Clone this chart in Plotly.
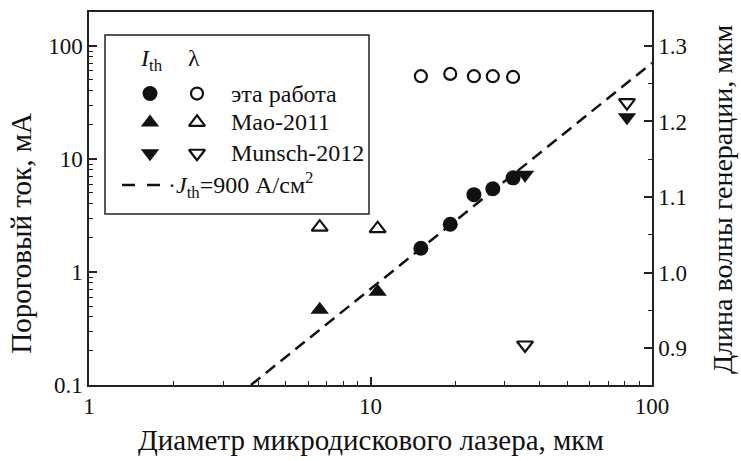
import plotly.graph_objects as go

# ---- data ----
this_d = [15.1, 19.2, 23.3, 27.2, 32.1]
this_I = [1.62, 2.64, 4.83, 5.45, 6.8]
this_lam = [1.260, 1.263, 1.260, 1.260, 1.259]

mao_d = [6.6, 10.6]
mao_I = [0.464, 0.668]
mao_lam = [1.060, 1.058]

munsch_d = [35.4, 81.5]
munsch_I = [7.24, 23.4]
munsch_lam = [0.904, 1.225]

line_d = [3.76, 100.0]
line_I = [0.1, 70.7]

FONT = "'Liberation Serif', 'Times New Roman', Times, serif"
BLACK = "#111111"

# plot area in pixels
L, R, T, B = 89, 652, 10, 385
W, H = 741, 461

fig = go.Figure()

def mk(sym, size, filled):
    if filled:
        return dict(symbol=sym, size=size, color=BLACK, line=dict(width=0))
    return dict(symbol=sym + "-open", size=size, color=BLACK, line=dict(width=2.2, color=BLACK))

# J_th line
fig.add_trace(go.Scatter(x=line_d, y=line_I, mode="lines",
                         line=dict(color=BLACK, width=2.5, dash="12px,7px"),
                         xaxis="x", yaxis="y", showlegend=False))
# threshold currents
fig.add_trace(go.Scatter(x=this_d, y=this_I, mode="markers", marker=mk("circle", 15, True),
                         xaxis="x", yaxis="y", showlegend=False))
fig.add_trace(go.Scatter(x=mao_d, y=mao_I, mode="markers", marker=mk("triangle-up", 16, True),
                         xaxis="x", yaxis="y", showlegend=False))
fig.add_trace(go.Scatter(x=munsch_d, y=munsch_I, mode="markers", marker=mk("triangle-down", 16, True),
                         xaxis="x", yaxis="y", showlegend=False))
# wavelengths
fig.add_trace(go.Scatter(x=this_d, y=this_lam, mode="markers", marker=mk("circle", 12, False),
                         xaxis="x", yaxis="y2", showlegend=False))
fig.add_trace(go.Scatter(x=mao_d, y=mao_lam, mode="markers", marker=mk("triangle-up", 14, False),
                         xaxis="x", yaxis="y2", showlegend=False))
fig.add_trace(go.Scatter(x=munsch_d, y=munsch_lam, mode="markers", marker=mk("triangle-down", 14, False),
                         xaxis="x", yaxis="y2", showlegend=False))

# ---- manual legend (pixel overlay axes) ----
leg_rows_y = [92, 121, 152]
leg_syms = ["circle", "triangle-up", "triangle-down"]
leg_labels = ["эта работа", "Mao-2011", "Munsch-2012"]
for yy, s in zip(leg_rows_y, leg_syms):
    fig.add_trace(go.Scatter(x=[150], y=[yy], mode="markers",
                             marker=mk(s, 15 if s == "circle" else 16, True),
                             xaxis="x3", yaxis="y3", showlegend=False, hoverinfo="skip"))
    fig.add_trace(go.Scatter(x=[197], y=[yy], mode="markers",
                             marker=mk(s, 12 if s == "circle" else 14, False),
                             xaxis="x3", yaxis="y3", showlegend=False, hoverinfo="skip"))
fig.add_trace(go.Scatter(x=[122, 162], y=[184, 184], mode="lines",
                         line=dict(color=BLACK, width=2.5, dash="13px,12px"),
                         xaxis="x3", yaxis="y3", showlegend=False, hoverinfo="skip"))

FLEG = dict(family=FONT, size=24, color=BLACK)
FTIT = dict(family=FONT, size=29, color=BLACK)
FTIT_R = dict(family=FONT, size=28, color=BLACK)
annos = []
for yy, lab in zip(leg_rows_y, leg_labels):
    annos.append(dict(x=229, y=yy, xref="x3", yref="y3", text=lab, showarrow=False,
                      xanchor="left", yanchor="middle", font=FLEG))
annos.append(dict(x=166, y=184, xref="x3", yref="y3",
                  text="·<i>J</i><sub>th</sub>=900 А/см<sup>2</sup>", showarrow=False,
                  xanchor="left", yanchor="middle", font=FLEG))
annos.append(dict(x=151, y=58, xref="x3", yref="y3", text="<i>I</i><sub>th</sub>", showarrow=False,
                  xanchor="center", yanchor="middle", font=FLEG))
annos.append(dict(x=194, y=56, xref="x3", yref="y3", text="λ", showarrow=False,
                  xanchor="center", yanchor="middle", font=FLEG))
# axis titles
annos.append(dict(x=0.5, y=0.0, xref="paper", yref="paper", yshift=-55,
                  text="Диаметр микродискового лазера, мкм",
                  showarrow=False, xanchor="center", yanchor="middle", font=FTIT))
annos.append(dict(x=0.0, y=233, xref="paper", yref="y3", xshift=-68, text="Пороговый ток, мА",
                  showarrow=False, xanchor="center", yanchor="middle", textangle=-90, font=FTIT))
annos.append(dict(x=1.0, y=198, xref="paper", yref="y3", xshift=70, text="Длина волны генерации, мкм",
                  showarrow=False, xanchor="center", yanchor="middle", textangle=-90, font=FTIT_R))

tickfont = dict(family=FONT, size=23, color=BLACK)
axline = dict(showline=True, linecolor="#222222", linewidth=1.5)

fig.update_layout(
    width=W, height=H,
    font=dict(family=FONT),
    margin=dict(l=L, r=W - R, t=T, b=H - B, pad=0),
    paper_bgcolor="white", plot_bgcolor="white",
    xaxis=dict(type="log", range=[0, 2], ticks="inside", ticklen=8, tickwidth=1.5,
               tickcolor="#222222", mirror=True, showgrid=False, zeroline=False,
               tickfont=tickfont, tickvals=[1, 10, 100], ticktext=["1", "10", "100"],
               minor=dict(ticks="inside", ticklen=4, tickwidth=1.2, tickcolor="#222222",
                          tickvals=[2, 3, 4, 5, 6, 7, 8, 9, 20, 30, 40, 50, 60, 70, 80, 90]),
               **axline),
    yaxis=dict(type="log", range=[-1, 2.3], ticks="inside", ticklen=8, tickwidth=1.5,
               tickcolor="#222222", showgrid=False, zeroline=False, tickfont=tickfont,
               tickvals=[0.1, 1, 10, 100], ticktext=["0.1", "1", "10", "100"],
               minor=dict(ticks="inside", ticklen=4, tickwidth=1.2, tickcolor="#222222",
                          tickvals=[k * m for m in (0.1, 1, 10, 100) for k in range(2, 10)]),
               **axline),
    yaxis2=dict(overlaying="y", side="right", range=[0.851, 1.345], dtick=0.1, tick0=0.9,
                tickformat=".1f", ticks="inside", ticklen=8, tickwidth=1.5, tickcolor="#222222",
                showgrid=False, zeroline=False, tickfont=tickfont,
                minor=dict(ticks="inside", ticklen=4, tickwidth=1.2, tickcolor="#222222", dtick=0.05),
                **axline),
    xaxis3=dict(overlaying="x", anchor="y3", range=[L, R], visible=False, fixedrange=True),
    yaxis3=dict(overlaying="y", anchor="x3", range=[B, T], visible=False, fixedrange=True),
    annotations=annos,
    shapes=[dict(type="rect", xref="x3", yref="y3", x0=105, y0=33, x1=369, y1=213,
                 line=dict(color="#222222", width=1.5), fillcolor="rgba(0,0,0,0)", layer="above")],
    showlegend=False,
)

fig.write_html("out.html")
